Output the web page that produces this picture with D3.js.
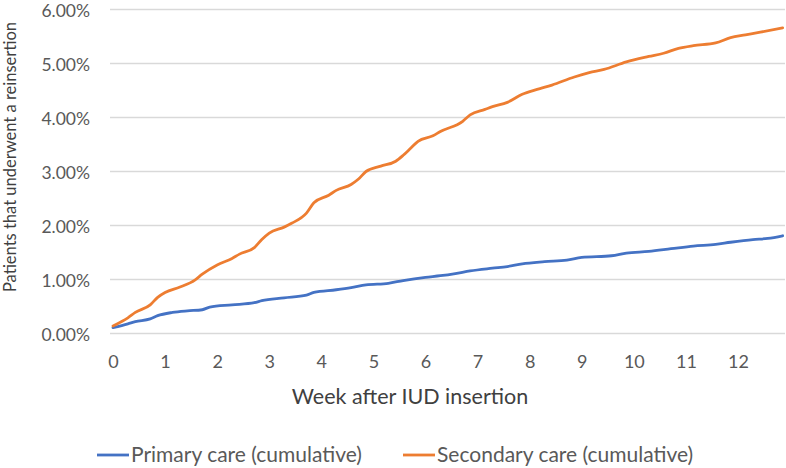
<!DOCTYPE html>
<html>
<head>
<meta charset="utf-8">
<script src="https://cdn.jsdelivr.net/npm/d3@7"></script>
<style>
  html, body { margin: 0; padding: 0; background: #fff; }
  svg { display: block; font-family: Lato, "Open Sans", sans-serif; }
</style>
</head>
<body>
<svg id="chart" width="786" height="468"></svg>
<script>
// ---- data (day after insertion, cumulative % of patients) ----
const weekTicks = [0, 1, 2, 3, 4, 5, 6, 7, 8, 9, 10, 11, 12];
const yTicks = [0, 1, 2, 3, 4, 5, 6];

const primaryDays   = [0, 2, 3, 5, 6, 8, 10, 12, 13, 16, 19, 20, 23, 26, 27, 30, 32, 34, 37, 39, 42, 44, 46, 48, 51, 53, 55, 58, 61, 63, 67, 69, 72, 75, 78, 81, 83, 86, 88, 90];
const primaryValues = [0.11, 0.18, 0.22, 0.27, 0.33, 0.39, 0.42, 0.44, 0.49, 0.53, 0.57, 0.61, 0.66, 0.71, 0.76, 0.81, 0.85, 0.90, 0.93, 0.98, 1.04, 1.07, 1.11, 1.16, 1.21, 1.24, 1.29, 1.33, 1.36, 1.41, 1.44, 1.49, 1.52, 1.57, 1.62, 1.65, 1.69, 1.74, 1.76, 1.81];

const secondaryDays   = [0, 2, 3, 5, 6, 7, 9, 11, 12, 14, 16, 17, 19, 20, 21, 23, 24, 26, 27, 29, 30, 32, 33, 34, 36, 38, 39, 40, 41, 43, 44, 47, 48, 50, 51, 53, 55, 57, 59, 62, 64, 66, 69, 72, 74, 76, 78, 81, 83, 85, 87, 90];
const secondaryValues = [0.14, 0.29, 0.39, 0.53, 0.67, 0.76, 0.86, 0.99, 1.10, 1.27, 1.39, 1.47, 1.59, 1.74, 1.86, 1.97, 2.04, 2.23, 2.42, 2.56, 2.65, 2.76, 2.86, 3.00, 3.10, 3.19, 3.30, 3.43, 3.56, 3.66, 3.74, 3.93, 4.05, 4.15, 4.20, 4.28, 4.43, 4.52, 4.60, 4.75, 4.83, 4.89, 5.03, 5.13, 5.19, 5.28, 5.33, 5.38, 5.48, 5.53, 5.58, 5.66];

const seriesNames = ["Primary care (cumulative)", "Secondary care (cumulative)"];
const seriesColors = ["#4472C4", "#ED7D31"];

// ---- layout ----
const svg = d3.select("#chart");
const plotLeft = 110, plotRight = 785;
const x = d3.scaleLinear().domain([0, 12]).range([113, 738]);
const y = d3.scaleLinear().domain([0, 6]).range([333.5, 9.5]);

// gridlines
svg.append("g").selectAll("line").data(yTicks).join("line")
  .attr("x1", plotLeft).attr("x2", plotRight)
  .attr("y1", d => y(d)).attr("y2", d => y(d))
  .attr("stroke", "#d9d9d9").attr("stroke-width", 1.3);

// y axis labels
const yAxis = d3.axisLeft(y).tickValues(yTicks).tickSize(0).tickPadding(0)
  .tickFormat(d => d3.format(".2f")(d) + "%");
const gy = svg.append("g").attr("transform", "translate(90,0)").call(yAxis);
gy.select(".domain").remove();
gy.selectAll("text").attr("fill", "#595959").style("font-size", "17.5px")
  .style("font-family", "Lato, sans-serif").attr("dy", "0.38em");

// x axis labels
const xAxis = d3.axisBottom(x).tickValues(weekTicks).tickSize(0).tickPadding(0);
const gx = svg.append("g").attr("transform", "translate(0,355)").call(xAxis);
gx.select(".domain").remove();
gx.selectAll("text").attr("fill", "#595959").style("font-size", "18px")
  .style("font-family", "Lato, sans-serif").attr("dy", "0.71em");

// axis titles
svg.append("text").attr("x", 410).attr("y", 404).attr("text-anchor", "middle")
  .attr("fill", "#404040").style("font-size", "21.5px").text("Week after IUD insertion");
svg.append("text").attr("transform", "translate(16,157) rotate(-90)")
  .attr("text-anchor", "middle").attr("fill", "#404040").style("font-size", "16.5px")
  .text("Patients that underwent a reinsertion");

// lines
const line = d3.line().x(d => x(d[0] / 7)).y(d => y(d[1])).curve(d3.curveMonotoneX);
const series = [
  d3.zip(primaryDays, primaryValues),
  d3.zip(secondaryDays, secondaryValues)
];
svg.append("g").selectAll("path").data(series).join("path")
  .attr("d", line).attr("fill", "none")
  .attr("stroke", (d, i) => seriesColors[i]).attr("stroke-width", 2.8)
  .attr("stroke-linejoin", "round").attr("stroke-linecap", "round");

// legend
const legendX = [97, 403];
const lg = svg.append("g").selectAll("g").data(seriesNames).join("g")
  .attr("transform", (d, i) => `translate(${legendX[i]},455)`);
lg.append("line").attr("x1", 0).attr("x2", 32).attr("y1", 0).attr("y2", 0)
  .attr("stroke", (d, i) => seriesColors[i]).attr("stroke-width", 2.8);
lg.append("text").attr("x", 34).attr("y", 0).attr("dy", "0.35em")
  .attr("fill", "#595959").style("font-size", "21px").text(d => d);
</script>
</body>
</html>
